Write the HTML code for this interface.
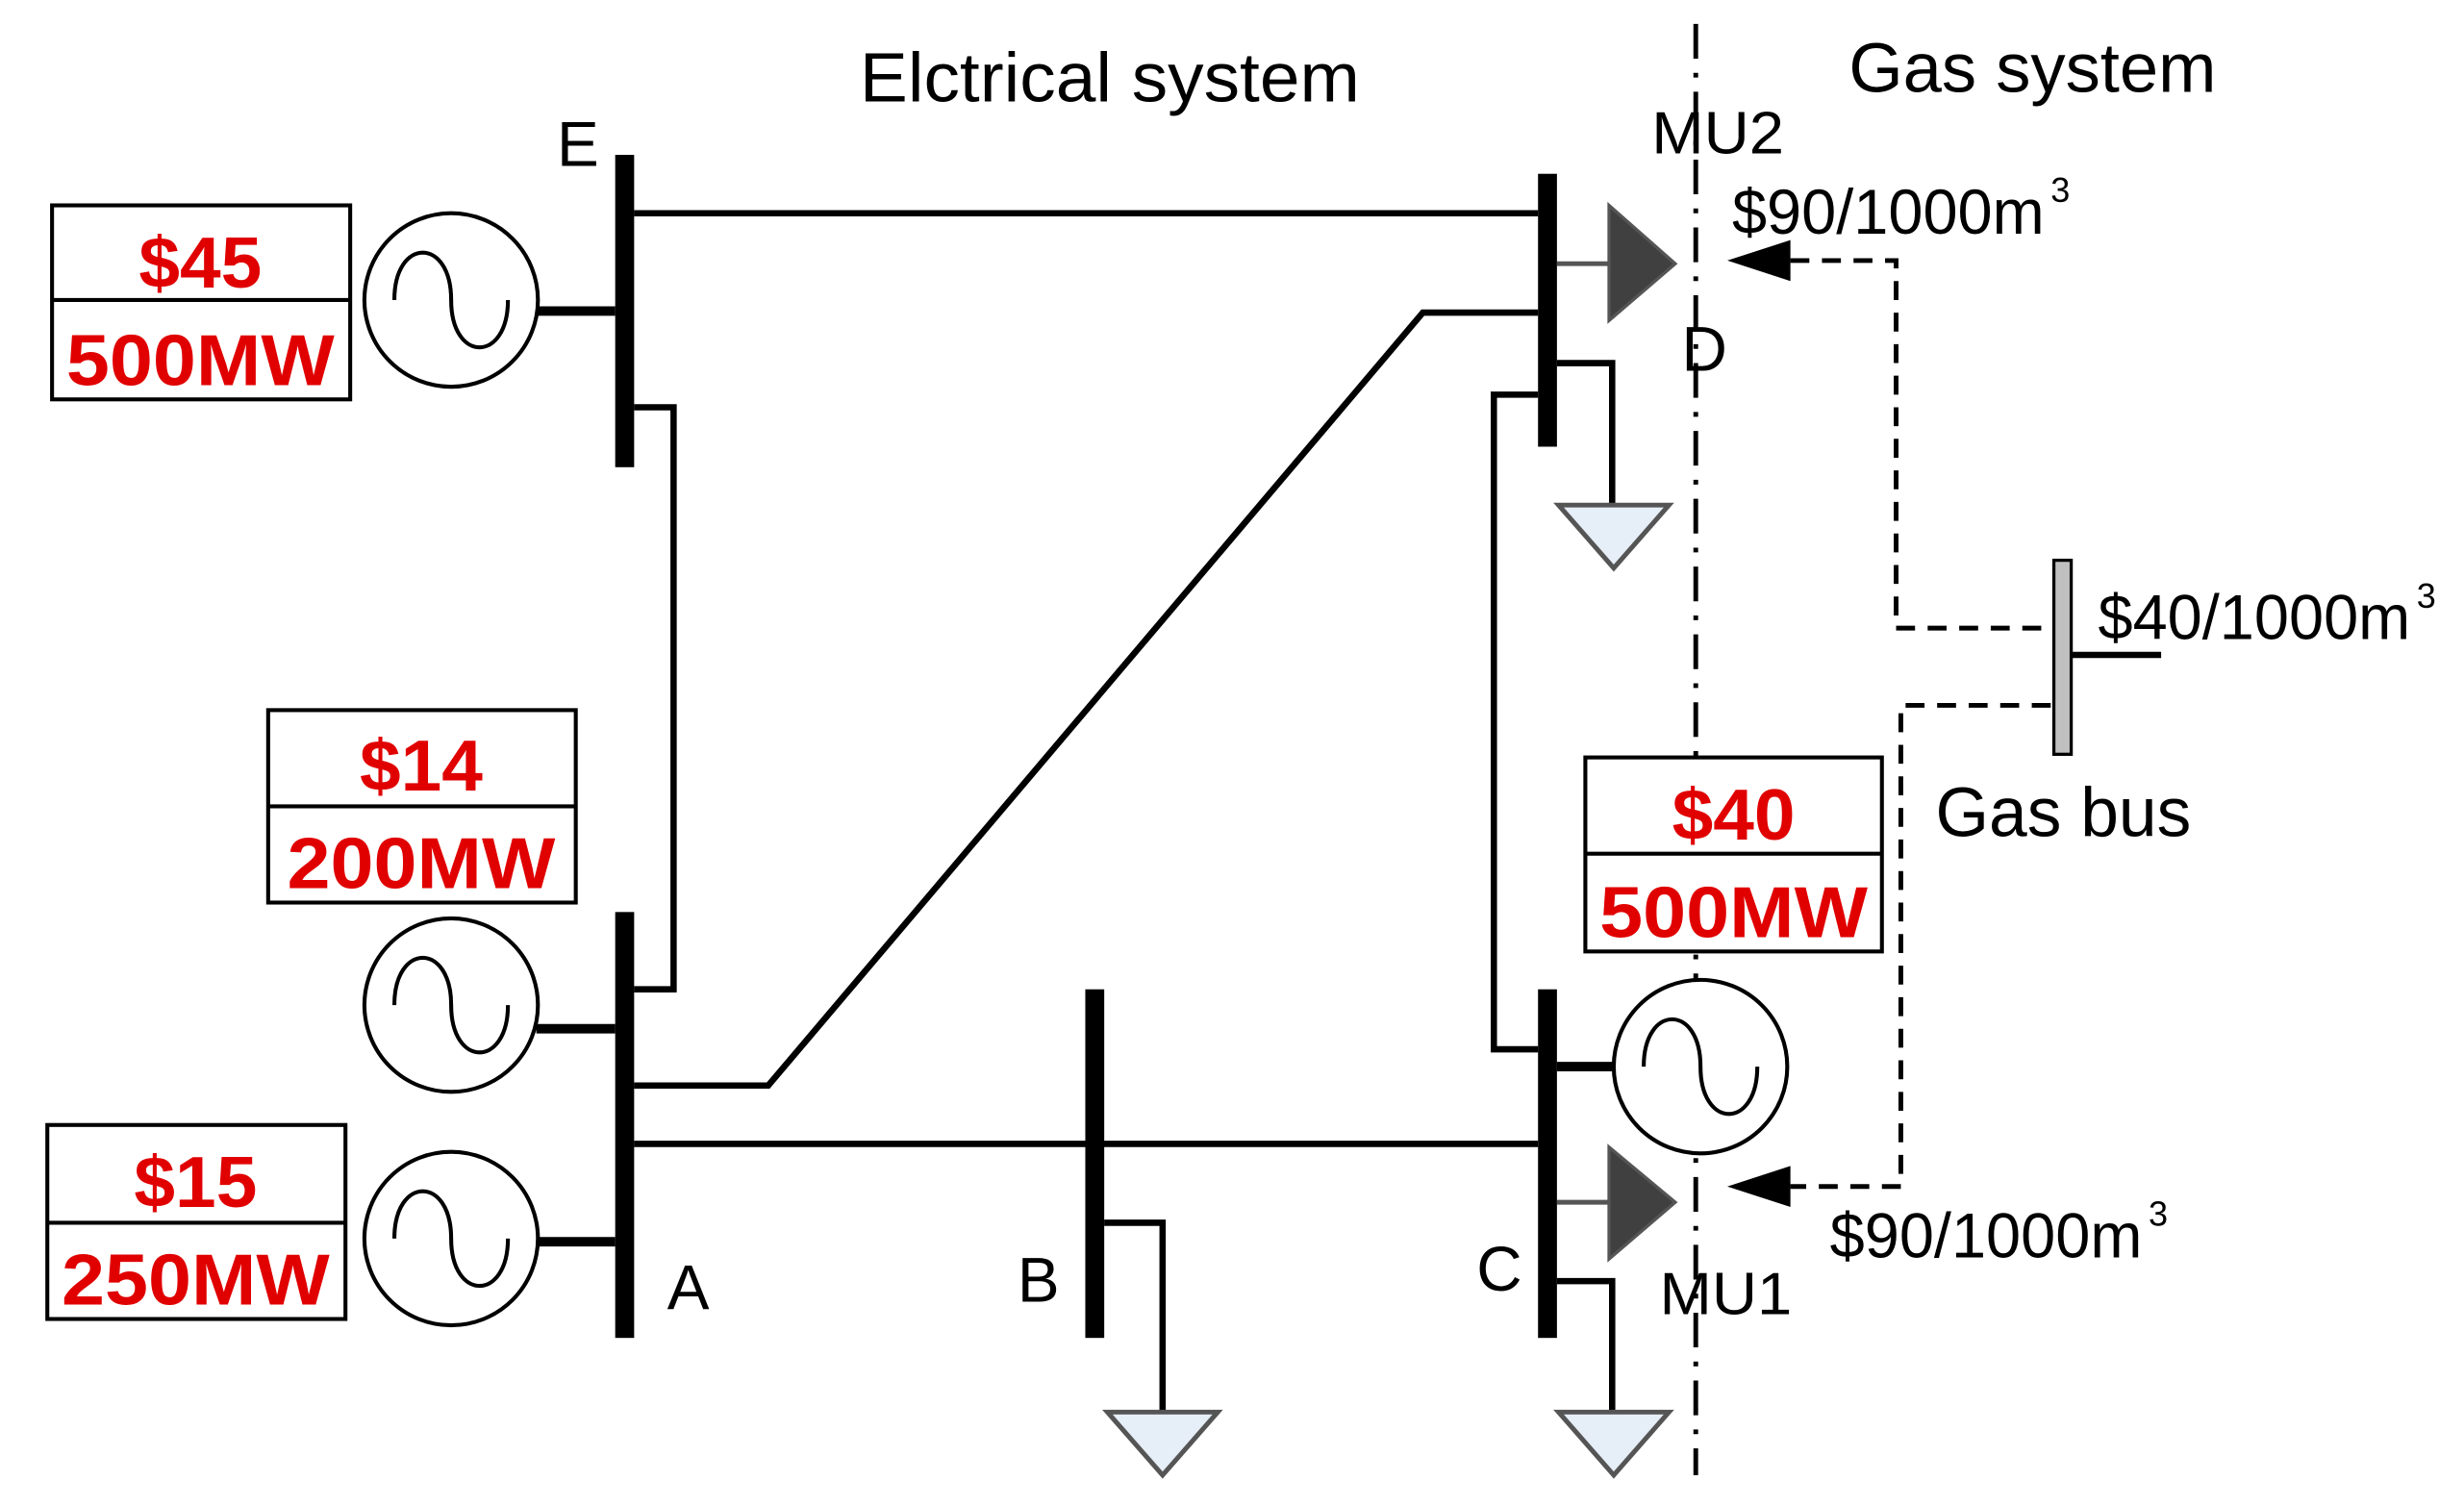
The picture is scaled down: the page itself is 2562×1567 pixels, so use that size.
<!DOCTYPE html>
<html><head><meta charset="utf-8"><style>html,body{margin:0;padding:0;background:#fff}svg{display:block}</style></head>
<body>
<svg width="2562" height="1567" viewBox="0 0 1562 955" xmlns="http://www.w3.org/2000/svg" font-family="Liberation Sans, sans-serif">
<rect width="1562" height="955" fill="#fff"/>
<g font-size="44" fill="#000">
<text x="545" y="64" textLength="317" lengthAdjust="spacingAndGlyphs">Elctrical system</text>
<text x="1172" y="58" textLength="233" lengthAdjust="spacingAndGlyphs">Gas system</text>
<text x="353" y="105" font-size="40">E</text>
<text x="423" y="830" font-size="40">A</text>
<text x="645" y="825" font-size="40">B</text>
<text x="936" y="818" font-size="40">C</text>
<text x="1066" y="235" font-size="40">D</text>
<text x="1047" y="97" font-size="38" textLength="84" lengthAdjust="spacingAndGlyphs">MU2</text>
<text x="1052" y="833" font-size="38" textLength="84" lengthAdjust="spacingAndGlyphs">MU1</text>
<text x="1098" y="148" font-size="40" textLength="198" lengthAdjust="spacingAndGlyphs">$90/1000m</text><text x="1300" y="128" font-size="22">3</text>
<text x="1160" y="797" font-size="40" textLength="198" lengthAdjust="spacingAndGlyphs">$90/1000m</text><text x="1362" y="777" font-size="22">3</text>
<text x="1330" y="405" font-size="40" textLength="198" lengthAdjust="spacingAndGlyphs">$40/1000m</text><text x="1532" y="385" font-size="22">3</text>
<text x="1227" y="530" textLength="162" lengthAdjust="spacingAndGlyphs">Gas bus</text>
</g>
<line x1="1075" y1="15" x2="1075" y2="935" stroke="#000" stroke-width="3" stroke-dasharray="22 9 3 9"/>
<g stroke="#000" stroke-width="4" fill="none">
<line x1="402" y1="135" x2="975" y2="135"/>
<polyline points="402,258 427,258 427,627 402,627"/>
<polyline points="402,688 487,688 902,198 975,198"/>
<line x1="402" y1="725" x2="975" y2="725"/>
<polyline points="700,775 737,775 737,895"/>
<polyline points="975,250 947,250 947,665 975,665"/>
<polyline points="987,230 1022,230 1022,320"/>
<polyline points="987,812 1022,812 1022,895"/>
<line x1="1313" y1="415" x2="1370" y2="415"/>
</g>
<g stroke="#000" stroke-width="6">
<line x1="340" y1="197" x2="390" y2="197"/>
<line x1="340" y1="652" x2="390" y2="652"/>
<line x1="340" y1="787" x2="390" y2="787"/>
<line x1="987" y1="676" x2="1025" y2="676"/>
</g>
<g fill="#000">
<rect x="390" y="98" width="12" height="198"/>
<rect x="390" y="578" width="12" height="270"/>
<rect x="688" y="627" width="12" height="221"/>
<rect x="975" y="110" width="12" height="173"/>
<rect x="975" y="627" width="12" height="221"/>
</g>
<rect x="1302" y="355" width="11" height="123" fill="#c0c0c0" stroke="#000" stroke-width="2"/>
<g stroke="#000" stroke-width="3" fill="none" stroke-dasharray="12 8">
<polyline points="1135,165 1202,165 1202,398 1300,398"/>
<polyline points="1300,447 1205,447 1205,752 1135,752"/>
</g>
<polygon points="1095,165 1135,152 1135,178" fill="#000"/>
<polygon points="1095,752 1135,739 1135,765" fill="#000"/>
<g stroke="#555" stroke-width="3">
<line x1="987" y1="167" x2="1020" y2="167"/>
<line x1="987" y1="762" x2="1020" y2="762"/>
</g>
<polygon points="1020,130 1020,203 1062,167" fill="#404040" stroke="#555" stroke-width="2"/>
<polygon points="1020,727 1020,798 1062,762" fill="#404040" stroke="#555" stroke-width="2"/>
<g fill="#e6eef8" stroke="#555" stroke-width="3">
<polygon points="702,895 772,895 737,935"/>
<polygon points="988,320 1058,320 1023,360"/>
<polygon points="988,895 1058,895 1023,935"/>
</g>
<g stroke="#000" stroke-width="2.5" fill="#fff">
<circle cx="286" cy="190" r="55"/>
<circle cx="286" cy="637" r="55"/>
<circle cx="286" cy="785" r="55"/>
<circle cx="1078" cy="676" r="55"/>
</g>
<g stroke="#000" stroke-width="2.5" fill="none">
<path d="M250 190 C250 150 286 150 286 190 C286 230 322 230 322 190"/>
<path d="M250 637 C250 597 286 597 286 637 C286 677 322 677 322 637"/>
<path d="M250 785 C250 745 286 745 286 785 C286 825 322 825 322 785"/>
<path d="M1042 676 C1042 636 1078 636 1078 676 C1078 716 1114 716 1114 676"/>
</g>
<g stroke="#000" stroke-width="2.5" fill="#fff">
<rect x="33" y="130" width="189" height="123"/><line x1="33" y1="190" x2="222" y2="190"/>
<rect x="170" y="450" width="195" height="122"/><line x1="170" y1="511" x2="365" y2="511"/>
<rect x="30" y="713" width="189" height="123"/><line x1="30" y1="775" x2="219" y2="775"/>
<rect x="1005" y="480" width="188" height="123"/><line x1="1005" y1="541" x2="1193" y2="541"/>
</g>
<g fill="#e00000" font-weight="bold" font-size="46" text-anchor="middle">
<text x="127" y="182" textLength="78" lengthAdjust="spacingAndGlyphs">$45</text><text x="127" y="244" textLength="170" lengthAdjust="spacingAndGlyphs">500MW</text>
<text x="267" y="501" textLength="78" lengthAdjust="spacingAndGlyphs">$14</text><text x="267" y="563" textLength="170" lengthAdjust="spacingAndGlyphs">200MW</text>
<text x="124" y="765" textLength="78" lengthAdjust="spacingAndGlyphs">$15</text><text x="124" y="827" textLength="170" lengthAdjust="spacingAndGlyphs">250MW</text>
<text x="1099" y="532" textLength="78" lengthAdjust="spacingAndGlyphs">$40</text><text x="1099" y="594" textLength="170" lengthAdjust="spacingAndGlyphs">500MW</text>
</g>
</svg>
</body></html>
